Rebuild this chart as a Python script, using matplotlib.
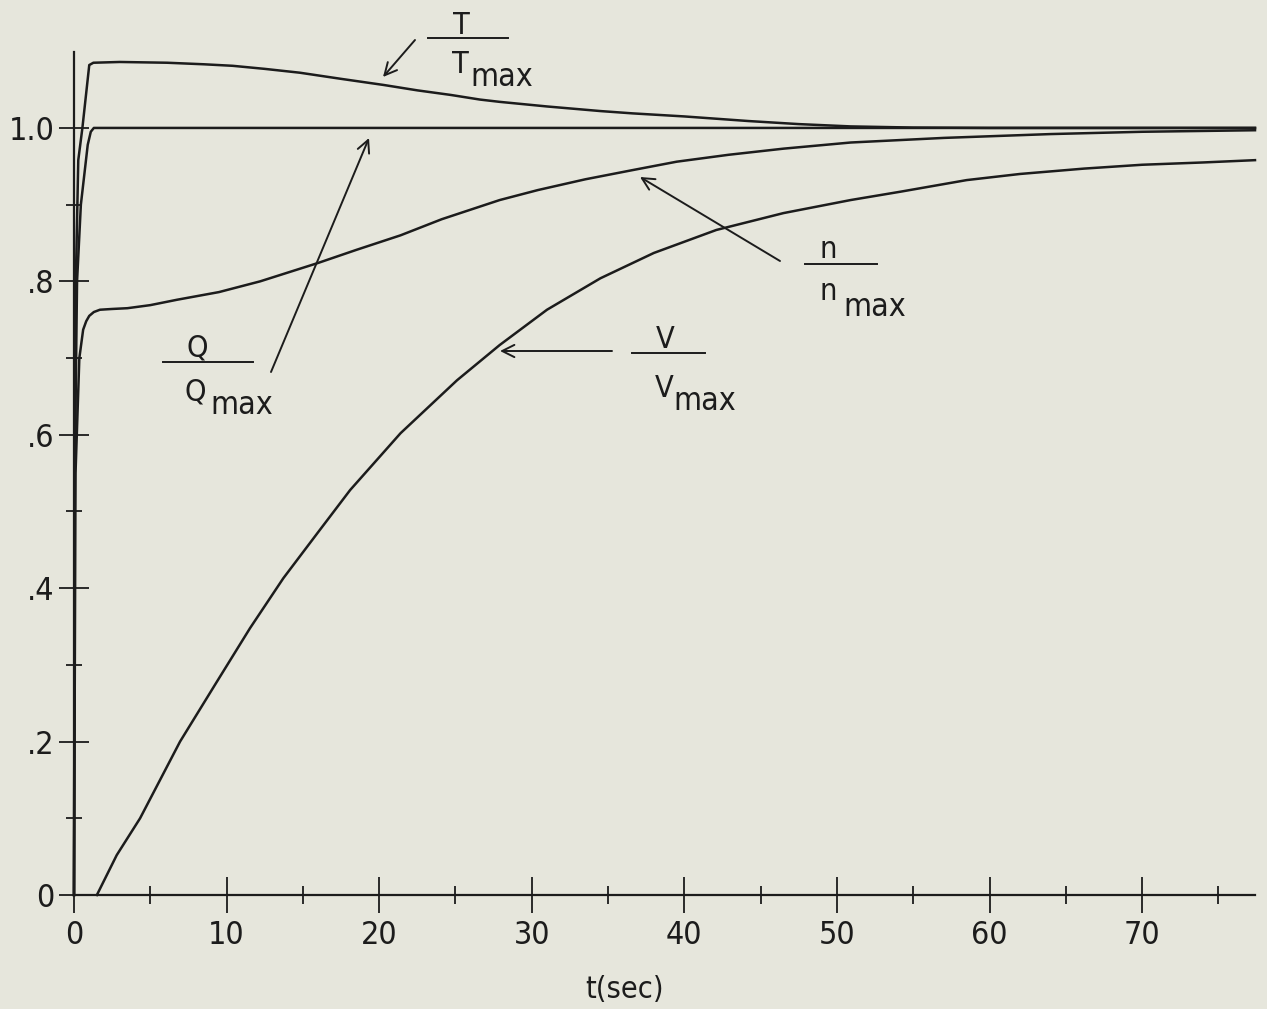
import matplotlib
matplotlib.use("Agg")
import matplotlib.pyplot as plt
from matplotlib.lines import Line2D

# ---- data (t in sec, values normalised) ----
t_T = [0, 0.05, 0.12, 0.28, 0.55, 1.0, 1.27, 3, 6.1, 8.5, 10.4, 12.5, 14.8, 17.5,
       20.3, 22.5, 24.7, 26.6, 27.9, 31, 34.5, 36.6, 40, 44.2, 47.5, 50.9, 55, 60, 77.4]
T_ratio = [0, 0.5, 0.8, 0.958, 1.0, 1.082, 1.085, 1.086, 1.085, 1.083, 1.081, 1.077,
           1.072, 1.064, 1.056, 1.049, 1.043, 1.037, 1.034, 1.028, 1.022, 1.019, 1.015,
           1.009, 1.005, 1.002, 1.0005, 1.0, 1.0]

t_Q = [0, 0.05, 0.2, 0.45, 0.9, 1.1, 1.3, 10, 30, 50, 77.4]
Q_ratio = [0, 0.55, 0.8, 0.9, 0.978, 0.995, 1.0, 1.0, 1.0, 1.0, 1.0]

t_n = [0, 0.1, 0.35, 0.6, 0.8, 1.0, 1.3, 1.7, 2.5, 3.5, 5, 6.75, 9.5, 12.2, 16.0,
       18.5, 21.4, 24.1, 27.9, 30.4, 33.5, 36.6, 39.5, 42.9, 46.5, 50.9, 57, 64, 70, 77.4]
n_ratio = [0, 0.55, 0.70, 0.737, 0.748, 0.755, 0.760, 0.763, 0.764, 0.765, 0.769,
           0.776, 0.786, 0.80, 0.824, 0.841, 0.860, 0.881, 0.906, 0.919, 0.933, 0.945,
           0.956, 0.965, 0.973, 0.981, 0.987, 0.992, 0.995, 0.997]

t_V = [1.5, 2.8, 4.33, 6.95, 9.3, 11.54, 13.72, 16, 18.1, 21.4, 25.1, 27.9, 31, 34.5,
       38, 42.1, 46.5, 50.9, 54.2, 58.5, 62, 66.2, 70, 74, 77.4]
V_ratio = [0, 0.052, 0.1, 0.2, 0.276, 0.348, 0.413, 0.473, 0.528, 0.602, 0.671, 0.717,
           0.763, 0.804, 0.837, 0.867, 0.889, 0.906, 0.917, 0.932, 0.940, 0.947, 0.952,
           0.955, 0.958]

x_major = [0, 10, 20, 30, 40, 50, 60, 70]
x_minor = [5, 15, 25, 35, 45, 55, 65, 75]
y_major = [0, 0.2, 0.4, 0.6, 0.8, 1.0]
y_labels = ["0", ".2", ".4", ".6", ".8", "1.0"]
y_minor = [0.1, 0.3, 0.5, 0.7, 0.9]

BG = "#e6e6dc"
INK = "#1c1c1c"
W, H = 1267, 1009

plt.rcParams["font.family"] = ["DejaVu Sans"]
plt.rcParams["font.weight"] = "light"
plt.rcParams["font.stretch"] = "condensed"

fig = plt.figure(figsize=(W / 100, H / 100), dpi=100, facecolor=BG)
ax = fig.add_axes([74 / W, 1 - 895 / H, (1255 - 74) / W, (895 - 52) / H])
ax.set_facecolor(BG)

for t, v in [(t_T, T_ratio), (t_Q, Q_ratio), (t_n, n_ratio), (t_V, V_ratio)]:
    ax.plot(t, v, color=INK, lw=1.8, solid_joinstyle="round", clip_on=False)

ax.set_xlim(0, 77.4)
ax.set_ylim(0, 1.099)
for s in ["top", "right"]:
    ax.spines[s].set_visible(False)
for s in ["left", "bottom"]:
    ax.spines[s].set_color(INK)
    ax.spines[s].set_linewidth(1.6)

ax.set_xticks(x_major)
ax.set_xticklabels([str(v) for v in x_major])
ax.set_xticks(x_minor, minor=True)
ax.set_yticks(y_major)
ax.set_yticklabels(y_labels)
ax.set_yticks(y_minor, minor=True)
ax.tick_params(axis="x", which="major", direction="inout", length=26, width=1.3,
               color=INK, labelsize=23, labelcolor=INK, pad=5)
ax.tick_params(axis="x", which="minor", direction="inout", length=13, width=1.3, color=INK)
ax.tick_params(axis="y", which="major", direction="inout", length=22, width=1.3,
               color=INK, labelsize=23, labelcolor=INK, pad=3)
ax.tick_params(axis="y", which="minor", direction="inout", length=12, width=1.3, color=INK)

# ---- labels, placed in reference pixel positions ----
def fx(px):
    return px / W

def fy(py):
    return 1 - py / H

fig.text(fx(625), fy(998), "t(sec)", ha="center", va="baseline", fontsize=22, color=INK)

def fraction(num, x_num, y_num, x0, x1, y_line, x_den, y_den, x_max, y_max):
    fig.text(fx(x_num), fy(y_num), num, ha="left", va="baseline", fontsize=22, color=INK)
    fig.add_artist(Line2D([fx(x0), fx(x1)], [fy(y_line), fy(y_line)],
                          transform=fig.transFigure, color=INK, lw=1.4))
    fig.text(fx(x_den), fy(y_den), num, ha="left", va="baseline", fontsize=22, color=INK)
    fig.text(fx(x_max), fy(y_max), "max", ha="left", va="baseline", fontsize=23, color=INK)

fraction("T", 453, 34, 428, 508, 38, 452, 73, 470, 86)
fraction("Q", 187, 356, 163, 253, 362, 185, 400, 210, 414)
fraction("n", 819, 258, 805, 877, 264, 819, 300, 843, 316)
fraction("V", 656, 348, 632, 705, 353, 655, 397, 673, 410)

def arrow(tail, head):
    ax.annotate("", xy=(fx(head[0]), fy(head[1])), xycoords="figure fraction",
                xytext=(fx(tail[0]), fy(tail[1])), textcoords="figure fraction",
                arrowprops=dict(arrowstyle="->", lw=1.4, color=INK, mutation_scale=22,
                                shrinkA=0, shrinkB=0))

arrow((415, 40), (383, 77))
arrow((271, 372), (369, 138))
arrow((780, 261), (640, 177))
arrow((612, 351), (500, 351))

fig.savefig("out.png", dpi=100, facecolor=BG)
